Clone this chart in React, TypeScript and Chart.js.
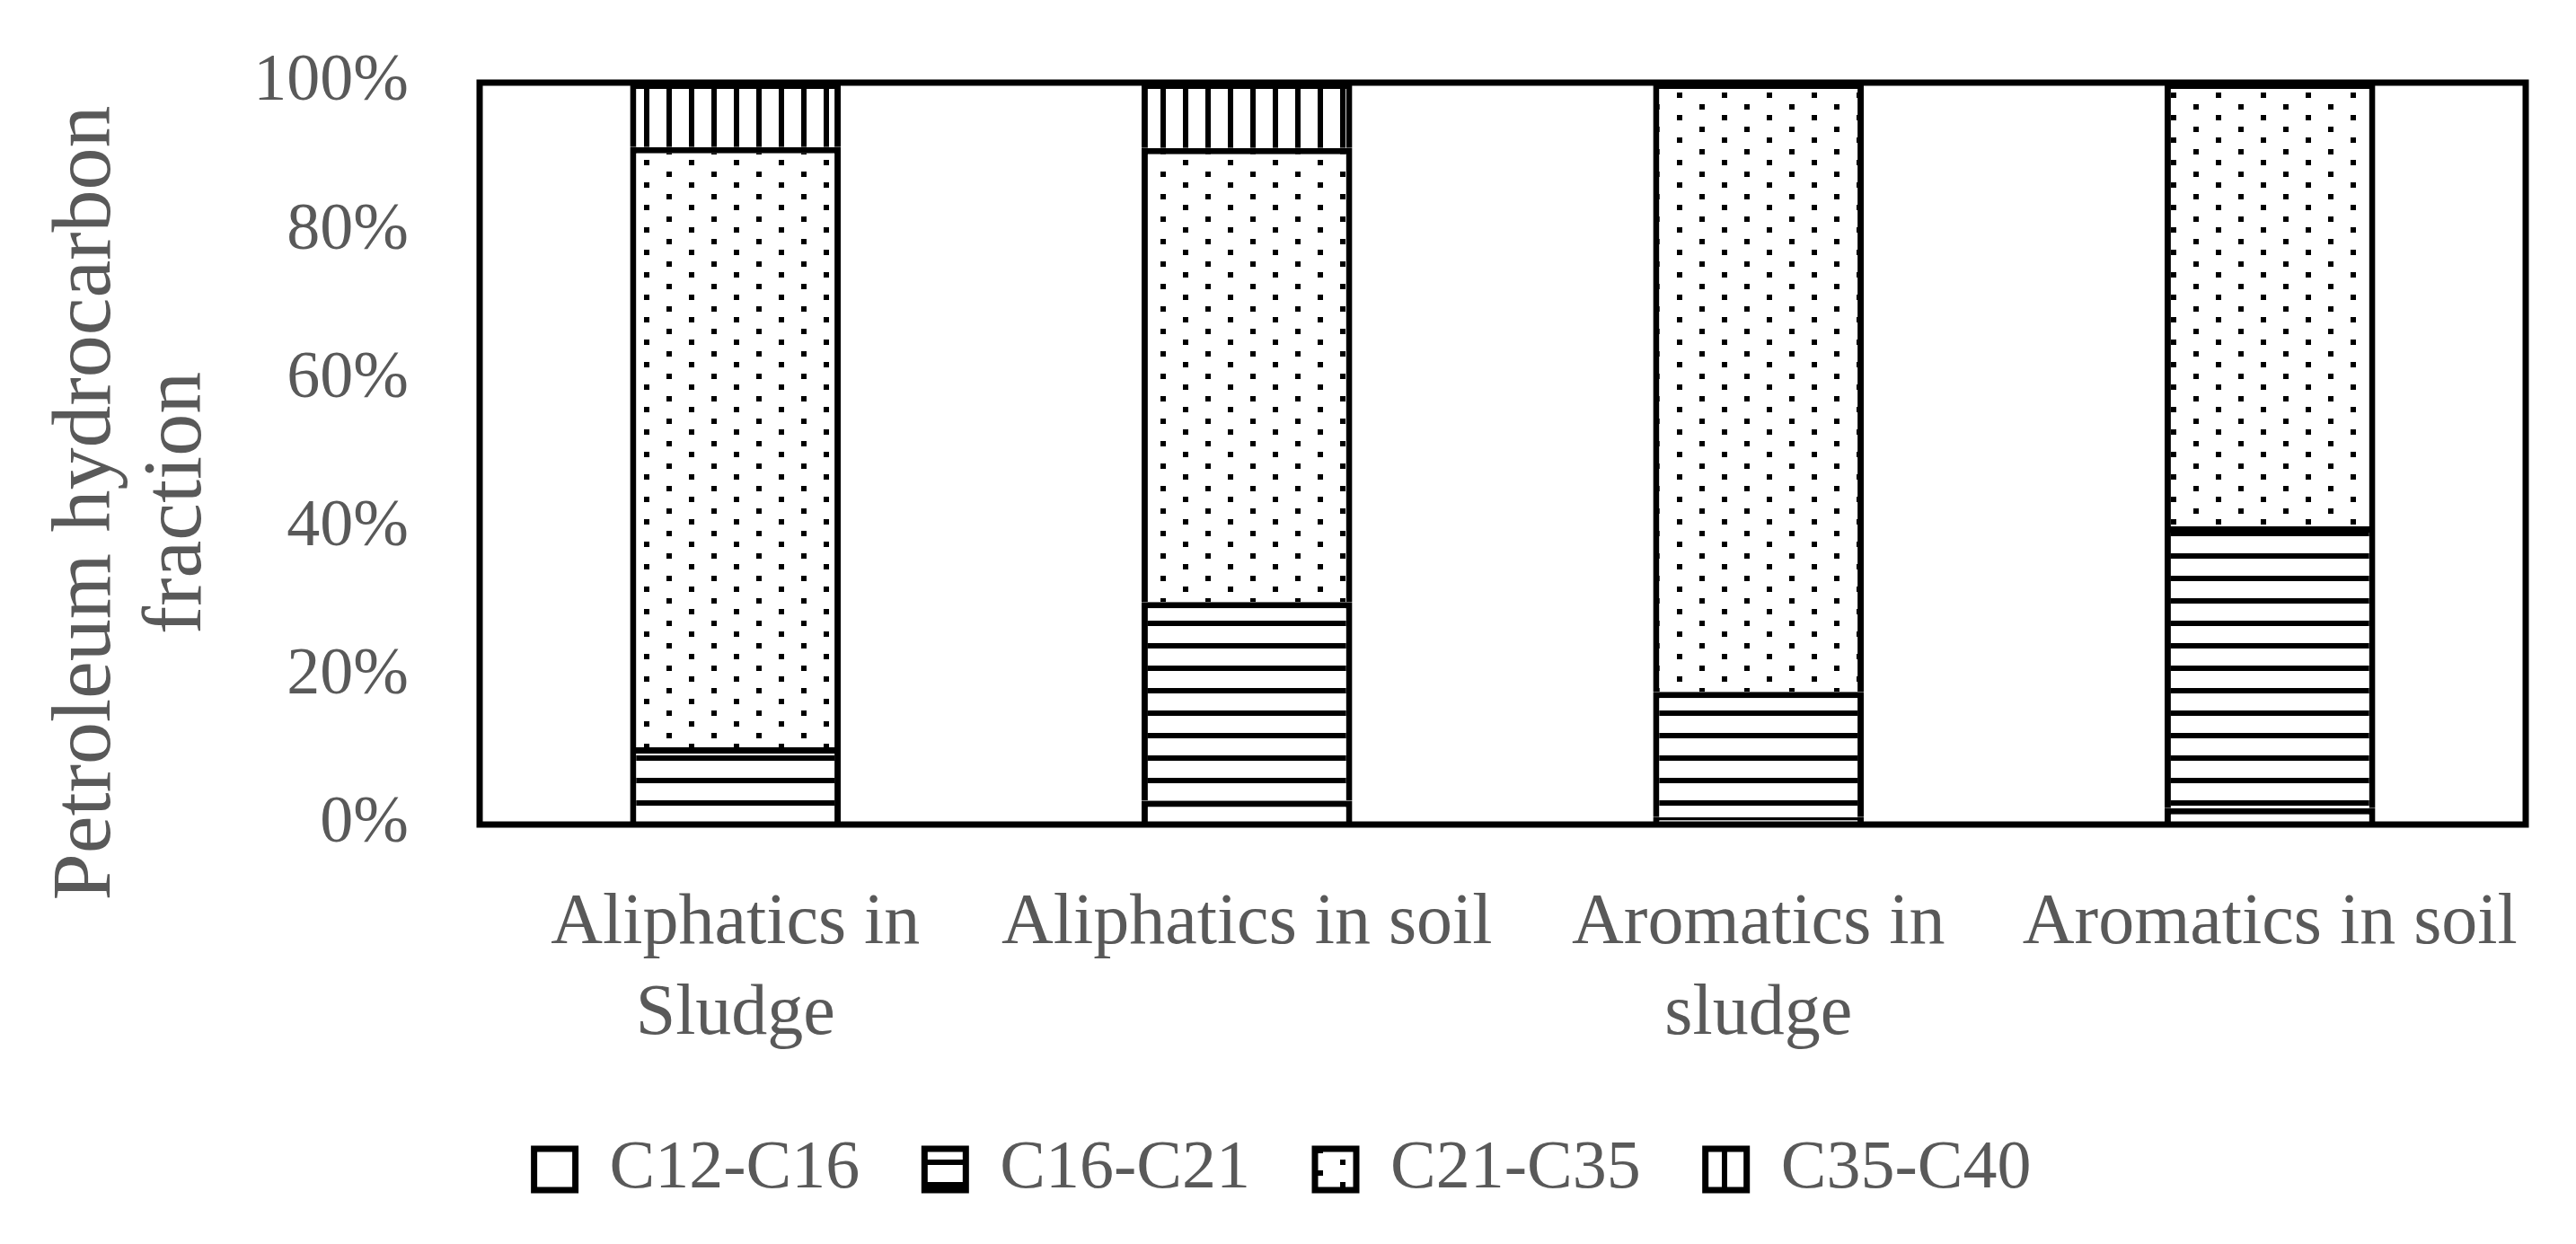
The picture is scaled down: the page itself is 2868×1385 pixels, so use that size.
import React, { useEffect, useRef } from 'react';
import { Chart, registerables } from 'chart.js';

Chart.register(...registerables);

// categories and stacked shares (%)
const categories: (string | string[])[] = [
  ['Aliphatics in', 'Sludge'],
  'Aliphatics in soil',
  ['Aromatics in', 'sludge'],
  'Aromatics in soil',
];
const seriesNames = ['C12-C16', 'C16-C21', 'C21-C35', 'C35-C40'];
const c12c16 = [0.3, 3.2, 1.0, 2.2];
const c16c21 = [10.1, 26.8, 16.9, 38.0];
const c21c35 = [80.9, 61.2, 82.1, 59.8];
const c35c40 = [8.7, 8.8, 0, 0];
const yTicks = [0, 20, 40, 60, 80, 100];
const yTitle = ['Petroleum hydrocarbon', 'fraction'];

const GRAY = '#595959';
const FONT = '"Liberation Serif", "Times New Roman", serif';

type TileDraw = (t: CanvasRenderingContext2D) => void;

const makePattern = (ctx: CanvasRenderingContext2D, w: number, h: number, draw: TileDraw) => {
  const c = document.createElement('canvas');
  c.width = w;
  c.height = h;
  const t = c.getContext('2d')!;
  t.fillStyle = '#ffffff';
  t.fillRect(0, 0, w, h);
  t.fillStyle = '#000000';
  draw(t);
  return ctx.createPattern(c, 'repeat')!;
};

// plot box drawn over the bars
const framePlugin = {
  id: 'frame',
  afterDatasetsDraw(chart: Chart) {
    const { ctx, chartArea: a } = chart;
    ctx.save();
    ctx.strokeStyle = '#000000';
    ctx.lineWidth = 7;
    ctx.strokeRect(a.left, a.top, a.right - a.left, a.bottom - a.top);
    ctx.restore();
  },
};

// two-line rotated y title, placed like the original
const yTitlePlugin = {
  id: 'yTitle',
  afterDraw(chart: Chart) {
    const { ctx } = chart;
    ctx.save();
    ctx.fillStyle = GRAY;
    ctx.font = `94px ${FONT}`;
    ctx.textAlign = 'center';
    ctx.textBaseline = 'alphabetic';
    ctx.translate(122, 560);
    ctx.rotate(-Math.PI / 2);
    yTitle.forEach((line, i) => ctx.fillText(line, 0, i * 101));
    ctx.restore();
  },
};

const App: React.FC = () => {
  const canvasRef = useRef<HTMLCanvasElement>(null);
  const chartInstance = useRef<Chart | null>(null);

  useEffect(() => {
    if (!canvasRef.current) return;
    const ctx = canvasRef.current.getContext('2d');
    if (!ctx) return;

    const plain = makePattern(ctx, 25, 25, () => {});
    const hLines = makePattern(ctx, 25, 25, (t) => t.fillRect(0, 16, 25, 6));
    const dots = makePattern(ctx, 50, 25, (t) => {
      t.fillRect(17, 3, 6, 6);
      t.fillRect(42, 16, 6, 6);
    });
    const vLines = makePattern(ctx, 25, 25, (t) => t.fillRect(17, 0, 6, 25));

    const fills = [plain, hLines, dots, vLines];
    const values = [c12c16, c16c21, c21c35, c35c40];

    if (chartInstance.current) chartInstance.current.destroy();

    chartInstance.current = new Chart(ctx, {
      type: 'bar',
      data: {
        labels: categories,
        datasets: seriesNames.map((name, i) => ({
          label: name,
          data: values[i],
          backgroundColor: fills[i],
          borderColor: '#000000',
          borderWidth: 7,
          borderSkipped: 'bottom' as const,
          barPercentage: 0.412,
          categoryPercentage: 1,
        })),
      },
      options: {
        responsive: false,
        devicePixelRatio: 1,
        animation: false,
        layout: { padding: { top: 92, right: 56, bottom: 35, left: 44 } },
        plugins: {
          tooltip: { enabled: false },
          legend: {
            position: 'bottom',
            labels: {
              color: GRAY,
              font: { family: FONT, size: 76 },
              boxWidth: 46,
              boxHeight: 46,
              padding: 72,
            },
          },
        },
        scales: {
          x: {
            stacked: true,
            grid: { display: false },
            border: { display: false },
            ticks: {
              color: GRAY,
              font: { family: FONT, size: 80, lineHeight: 1.26 },
              padding: 53,
              maxRotation: 0,
              autoSkip: false,
            },
            afterFit: (s: any) => {
              s.height = 274;
            },
          },
          y: {
            stacked: true,
            min: 0,
            max: 100,
            // invisible tick marks give the label gap without inflating the top padding
            grid: {
              display: true,
              drawOnChartArea: false,
              drawTicks: true,
              tickLength: 79,
              color: 'rgba(0,0,0,0)',
            },
            border: { display: false },
            ticks: {
              color: GRAY,
              font: { family: FONT, size: 74 },
              padding: 0,
              callback: (v: any) => `${v}%`,
            },
            afterBuildTicks: (s: any) => {
              s.ticks = yTicks.map((v) => ({ value: v }));
            },
            afterFit: (s: any) => {
              s.width = 490;
            },
          },
        },
      },
      plugins: [framePlugin, yTitlePlugin],
    });

    return () => {
      if (chartInstance.current) {
        chartInstance.current.destroy();
        chartInstance.current = null;
      }
    };
  }, []);

  return (
    <div style={{ position: 'fixed', left: 0, top: 0, width: 2868, height: 1385, background: '#ffffff' }}>
      <canvas ref={canvasRef} width={2868} height={1385} />
    </div>
  );
};

export default App;
